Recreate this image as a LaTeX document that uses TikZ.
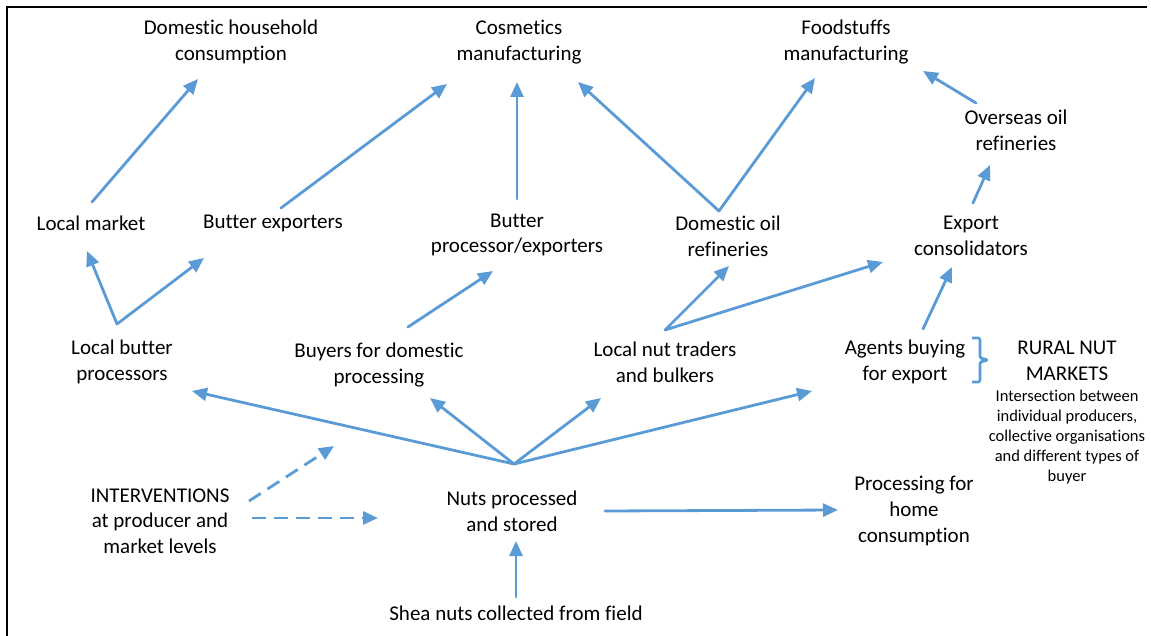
\documentclass[tikz,border=0pt]{standalone}
\usepackage{fontspec}
\setmainfont[Ligatures=NoCommon]{Carlito}
\usetikzlibrary{arrows.meta,calc}
\definecolor{arrowblue}{HTML}{5B9BD5}
\begin{document}
\begin{tikzpicture}[x=1pt,y=-1pt,
  lbl/.style={align=center, font=\fontsize{21}{25.6}\selectfont, inner sep=0pt},
  small/.style={align=center, font=\fontsize{16.5}{20}\selectfont, inner sep=0pt},
  link/.style={draw=arrowblue, line width=2.8pt, line join=round, line cap=round},
  arr/.style={link, -{Triangle[length=15pt,width=13pt]}},
  arrboth/.style={link, {Triangle[length=15pt,width=13pt]}-{Triangle[length=15pt,width=13pt]}},
  dasharr/.style={arr, line cap=butt, dash pattern=on 14pt off 8pt},
  frame/.style={draw=black, line width=2.6pt}]
\useasboundingbox (0,0) rectangle (1151,636);
\draw[frame] (7,640) -- (7,7) -- (1147,7);

% nodes
\node[lbl] (dhc)  at (231,42)  {Domestic household\\consumption};
\node[lbl] (cos)  at (519,42)  {Cosmetics\\manufacturing};
\node[lbl] (food) at (846,42)  {Foodstuffs\\manufacturing};
\node[lbl] (over) at (1016,130) {Overseas oil\\refineries};
\node[lbl] (lm)   at (91,223)  {Local market};
\node[lbl] (bex)  at (273,223) {Butter exporters};
\node[lbl] (bpe)  at (517,235) {Butter\\processor/exporters};
\node[lbl] (dor)  at (728,236) {Domestic oil\\refineries};
\node[lbl] (exc)  at (971,236) {Export\\consolidators};
\node[lbl] (lbp)  at (122,362) {Local butter\\processors};
\node[lbl] (bdp)  at (379,365) {Buyers for domestic\\processing};
\node[lbl] (lnt)  at (665,362) {Local nut traders\\and bulkers};
\node[lbl] (agt)  at (905,362) {Agents buying\\for export};
\node[lbl] (rnm)  at (1067,361) {RURAL NUT\\MARKETS};
\node[small] (rnmtxt) at (1067,437) {Intersection between\\individual producers,\\collective organisations\\and different types of\\buyer};
\node[lbl] (intv) at (160,521) {INTERVENTIONS\\at producer and\\market levels};
\node[lbl] (nps)  at (512,511) {Nuts processed\\and stored};
\node[lbl] (phc)  at (914,511) {Processing for\\home\\consumption};
\node[lbl] (shea) at (516,613) {Shea nuts collected from field};

% connectors
\draw[arr] ([shift={(1,-21)}]lm.center) -- ([shift={(-33,37)}]dhc.center);
\draw[arr] ([shift={(8,-15)}]bex.center) -- ([shift={(-72,42)}]cos.center);
\draw[arr] ([shift={(0,-36)}]bpe.center) -- ([shift={(-2,40)}]cos.center);
\draw[arrboth] ([shift={(59,40)}]cos.center) -- ([shift={(-9,-25)}]dor.center) -- ([shift={(-31,36)}]food.center);
\draw[arr] ([shift={(-40,-27)}]over.center) -- ([shift={(77,29)}]food.center);
\draw[arr] ([shift={(2,-33)}]exc.center) -- ([shift={(-26,35)}]over.center);
\draw[arrboth] ([shift={(-4,28)}]lm.center) -- ([shift={(-5,-38)}]lbp.center) -- ([shift={(-69,35)}]bex.center);
\draw[arr] ([shift={(29,-38)}]bdp.center) -- ([shift={(-24,36)}]bpe.center);
\draw[arrboth] ([shift={(1,30)}]dor.center) -- ([shift={(0,-32)}]lnt.center) -- ([shift={(-88,26)}]exc.center);
\draw[arr] ([shift={(18,-33)}]agt.center) -- ([shift={(-19,31)}]exc.center);

\coordinate (hub) at ([shift={(2,-47)}]nps.center);
\draw[arr] (hub) -- ([shift={(70,29)}]lbp.center);
\draw[arr] (hub) -- ([shift={(51,33)}]bdp.center);
\draw[arr] (hub) -- ([shift={(-64,36)}]lnt.center);
\draw[arr] (hub) -- ([shift={(-93,29)}]agt.center);
\draw[arr] ([shift={(93,0)}]nps.center) -- ([shift={(-76,-1)}]phc.center);
\draw[arr] ([shift={(0,-16)}]shea.center) -- ([shift={(4,30)}]nps.center);

\coordinate (intvtip) at ([shift={(174,-75)}]intv.center);
\draw[dasharr] ([shift={(89,-20)}]intv.center) -- (intvtip);
\draw[dasharr] ([shift={(92,-3)}]intv.center) -- ([shift={(-134,7)}]nps.center);

% bracket
\draw[link, line cap=butt, rounded corners=1.5pt] (972,338) -| (980,358) -- (988,360) -- (980,362) |- (972,382);
\end{tikzpicture}
\end{document}
